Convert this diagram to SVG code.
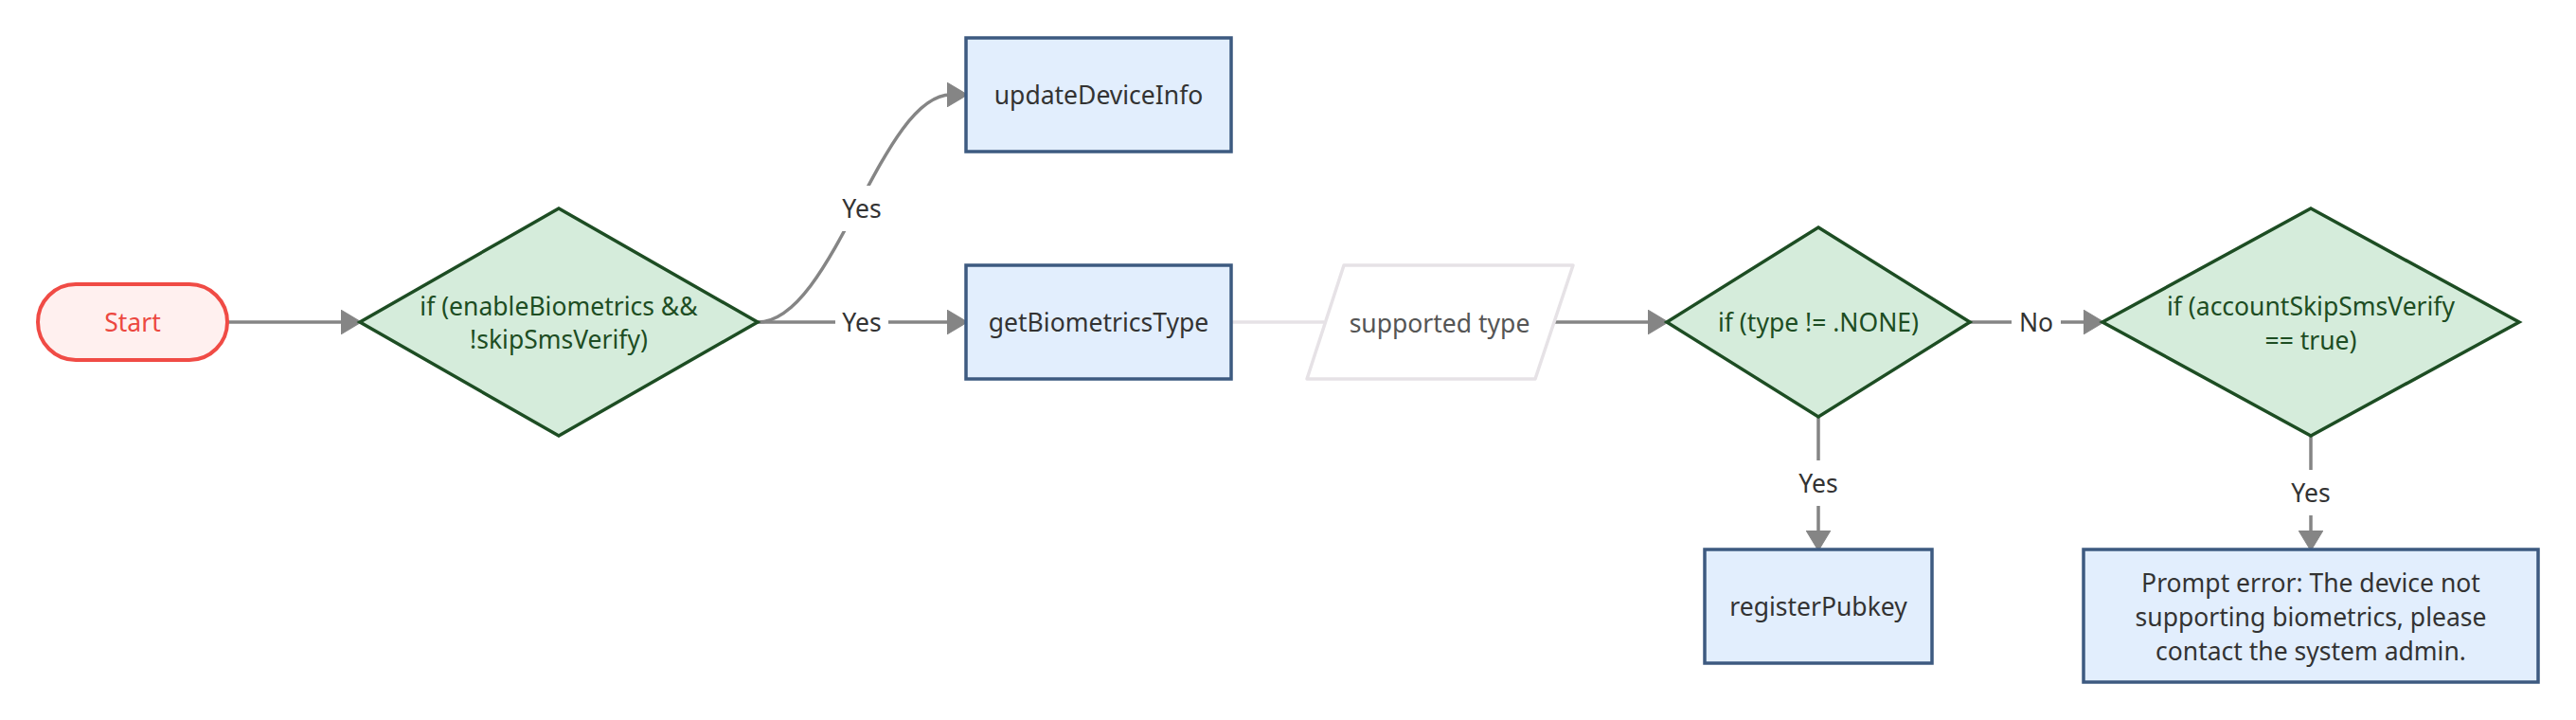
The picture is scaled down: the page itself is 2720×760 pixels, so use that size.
<svg xmlns="http://www.w3.org/2000/svg" width="2720" height="760" viewBox="0 0 2720 760">
<style>
text{font-family:"Noto Sans","Open Sans","Liberation Sans",sans-serif;font-size:26.5px;text-anchor:middle;dominant-baseline:central}
.box{fill:#e2eefd;stroke:#3d5a80;stroke-width:3.5}
.box-t{fill:#333333}
.dia{fill:#d5ecdb;stroke:#1d4d23;stroke-width:3.5}
.dia-t{fill:#1d4d23}
.edge{fill:none;stroke:#858585;stroke-width:3.5}
.lbl-bg{fill:#ffffff}
.lbl{fill:#333333}
</style>
<defs>
<marker id="arrow" markerUnits="userSpaceOnUse" markerWidth="22" markerHeight="26" viewBox="0 0 20 24" refX="4" refY="12" orient="auto">
<path d="M0,0 L20,12 L0,24 z" fill="#858585" stroke="#858585" stroke-width="1" stroke-linejoin="round"/>
</marker>
</defs>
<rect width="2720" height="760" fill="#ffffff"/>
<g id="connectors">
<path class="edge" d="M240,340 L364,340" marker-end="url(#arrow)"/>
<path class="edge" d="M800,340 C880,340 930,100 1004,100" marker-end="url(#arrow)"/>
<path class="edge" d="M800,340 L1004,340" marker-end="url(#arrow)"/>
<path d="M1300,340 L1398,340" fill="none" stroke="#e6e2e6" stroke-width="3.5"/>
<path class="edge" d="M1641,340 L1744,340" marker-end="url(#arrow)"/>
<path class="edge" d="M2080,340 L2204,340" marker-end="url(#arrow)"/>
<path class="edge" d="M1920,440 L1920,564" marker-end="url(#arrow)"/>
<path class="edge" d="M2440,460 L2440,564" marker-end="url(#arrow)"/>
<g id="edge-labels">
<rect class="lbl-bg" x="882" y="196" width="56" height="48"/>
<text class="lbl" x="910" y="220">Yes</text>
<rect class="lbl-bg" x="882" y="316" width="56" height="48"/>
<text class="lbl" x="910" y="340">Yes</text>
<rect class="lbl-bg" x="2124" y="316" width="52" height="48"/>
<text class="lbl" x="2150" y="340">No</text>
<rect class="lbl-bg" x="1892" y="486" width="56" height="48"/>
<text class="lbl" x="1920" y="510">Yes</text>
<rect class="lbl-bg" x="2412" y="496" width="56" height="48"/>
<text class="lbl" x="2440" y="520">Yes</text>
</g>
</g>
<g id="start">
<rect x="40" y="300" width="200" height="80" rx="40" ry="40" fill="#fff0ef" stroke="#f04b45" stroke-width="4"/>
<text x="140" y="340" fill="#ec4840">Start</text>
</g>
<g id="cond1">
<polygon class="dia" points="590,220 800,340 590,460 380,340"/>
<text class="dia-t" x="590" y="323">if (enableBiometrics &amp;&amp;</text>
<text class="dia-t" x="590" y="358">!skipSmsVerify)</text>
</g>
<g id="updateDeviceInfo">
<rect class="box" x="1020" y="40" width="280" height="120"/>
<text class="box-t" x="1160" y="100">updateDeviceInfo</text>
</g>
<g id="getBiometricsType">
<rect class="box" x="1020" y="280" width="280" height="120"/>
<text class="box-t" x="1160" y="340">getBiometricsType</text>
</g>
<g id="supportedType">
<polygon points="1419,280 1661,280 1621,400 1380,400" fill="#ffffff" stroke="#e6e2e6" stroke-width="3.5" stroke-linejoin="round"/>
<text x="1520" y="341" fill="#555555">supported type</text>
</g>
<g id="cond2">
<polygon class="dia" points="1920,240 2080,340 1920,440 1760,340"/>
<text class="dia-t" x="1920" y="340">if (type != .NONE)</text>
</g>
<g id="cond3">
<polygon class="dia" points="2440,220 2660,340 2440,460 2220,340"/>
<text class="dia-t" x="2440" y="323">if (accountSkipSmsVerify</text>
<text class="dia-t" x="2440" y="359">== true)</text>
</g>
<g id="registerPubkey">
<rect class="box" x="1800" y="580" width="240" height="120"/>
<text class="box-t" x="1920" y="640">registerPubkey</text>
</g>
<g id="promptError">
<rect class="box" x="2200" y="580" width="480" height="140"/>
<text class="box-t" x="2440" y="615">Prompt error: The device not</text>
<text class="box-t" x="2440" y="651">supporting biometrics, please</text>
<text class="box-t" x="2440" y="687">contact the system admin.</text>
</g>
</svg>
